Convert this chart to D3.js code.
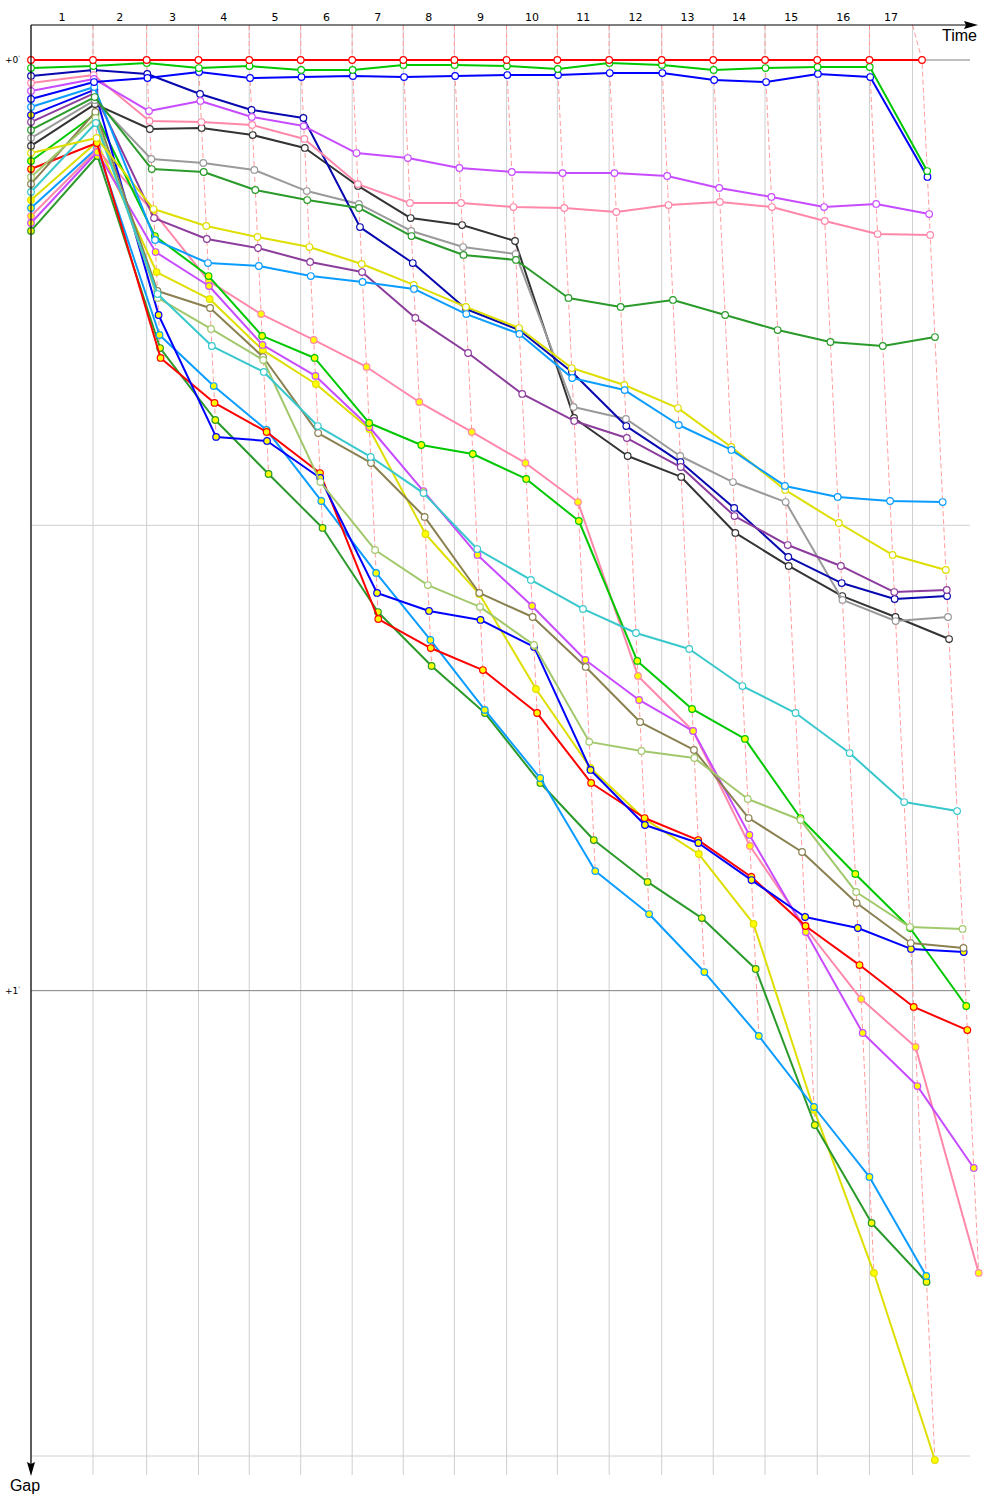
<!DOCTYPE html>
<html>
<head>
<meta charset="utf-8">
<script src="https://cdnjs.cloudflare.com/ajax/libs/d3/7.8.5/d3.min.js"></script>
<style>
  body { margin: 0; background: #fff; }
  svg { display: block; font-family: "DejaVu Sans", sans-serif; }
</style>
</head>
<body>
<svg id="chart" width="1000" height="1500"></svg>
<script>
// lap labels along the time axis
const lapLabels = ["1", "2", "3", "4", "5", "6", "7", "8", "9", "10", "11", "12", "13", "14", "15", "16", "17"];

// time marks of the vertical lines (seconds since start)
const gridTimes = [0, 85.5, 159.5, 231, 301, 372, 443, 513.5, 584, 656, 726, 797.5, 870, 941, 1012.5, 1084.5, 1156.5, 1216];
// leader crossing time of each lap (seconds)
const leaderTimes = [0, 85.5, 159.5, 231, 301, 372, 443, 513.5, 584, 656, 726, 797.5, 870, 941, 1012.5, 1084.5, 1156.5, 1229];

// gap ticks (seconds)
const gapTicks = [0, 30, 60, 90];
const gapTickLabels = ["+0", "", "+1", ""];

// gap to leader per lap (seconds), lap 0 = start grid
const gapRed = [0, 0, 0, 0, 0, 0, 0, 0, 0, 0, 0, 0, 0, 0, 0, 0, 0, 0];
const gapGreen = [0.52, 0.39, 0.19, 0.52, 0.39, 0.64, 0.64, 0.32, 0.32, 0.39, 0.58, 0.19, 0.32, 0.64, 0.52, 0.45, 0.45, 7.16];
const gapBlue = [2.51, 1.42, 1.16, 0.77, 1.16, 1.10, 1.03, 1.10, 1.03, 0.97, 0.97, 0.84, 0.84, 1.29, 1.42, 0.90, 1.10, 7.54];
const gapMagenta = [2.0, 1.22, 3.29, 2.64, 3.67, 4.26, 6.0, 6.32, 6.96, 7.22, 7.29, 7.29, 7.48, 8.25, 8.83, 9.48, 9.28, 9.93];
const gapPink = [1.48, 0.97, 3.93, 4.0, 4.19, 5.09, 8.0, 9.22, 9.22, 9.48, 9.54, 9.8, 9.35, 9.15, 9.48, 10.38, 11.22, 11.28];
const gapDarkGreen = [4.51, 2.39, 7.03, 7.22, 8.38, 9.03, 9.54, 11.35, 12.57, 12.89, 15.34, 15.92, 15.47, 16.44, 17.41, 18.18, 18.44, 17.86];
const gapSky = [3.03, 1.74, 11.6, 13.09, 13.28, 13.93, 14.31, 14.76, 16.38, 17.66, 20.5, 21.28, 23.53, 25.14, 27.46, 28.17, 28.43, 28.5];
const gapYellow = [6.0, 5.03, 9.61, 10.7, 11.41, 12.06, 13.15, 14.5, 15.92, 17.28, 19.86, 20.95, 22.44, 24.95, 27.72, 29.85, 31.91, 32.88];
const gapPurple = [4.0, 2.13, 10.19, 11.54, 12.12, 13.02, 13.67, 16.63, 18.89, 21.53, 23.27, 24.37, 26.24, 29.4, 31.27, 32.62, 34.3, 34.17];
const gapNavy = [1.03, 0.64, 0.9, 2.19, 3.22, 3.74, 10.77, 13.09, 16.05, 17.41, 20.11, 23.6, 25.92, 28.88, 32.04, 33.72, 34.75, 34.56];
const gapGray = [5.03, 2.58, 6.38, 6.64, 7.09, 8.45, 9.28, 11.02, 12.06, 12.51, 22.37, 23.14, 25.53, 27.21, 28.5, 34.81, 36.17, 35.91];
const gapBlack = [5.54, 2.84, 4.45, 4.38, 4.84, 5.67, 8.12, 10.19, 10.64, 11.67, 23.08, 25.53, 26.88, 30.49, 32.62, 34.56, 35.91, 37.33];
const gapTurquoise = [8.51, 4.06, 15.09, 18.44, 20.11, 23.6, 25.59, 27.92, 31.53, 33.52, 35.39, 36.94, 37.97, 40.36, 42.1, 44.68, 47.84, 48.42];
const gapOlive = [7.54, 3.74, 15.34, 17.34, 19.34, 27.21, 31.59, 33.85, 35.26, 37.71, 43.96, 44.55, 45.0, 47.64, 49.0, 53.64, 55.9, 56.02];
const gapKhaki = [7.99, 3.35, 14.89, 15.99, 19.15, 24.05, 25.98, 29.46, 34.36, 35.91, 39.13, 42.68, 44.48, 48.87, 51.06, 54.35, 56.93, 57.25];
const gapBlue2 = [3.55, 1.93, 16.44, 24.3, 24.56, 26.95, 34.36, 35.52, 36.1, 37.84, 45.77, 49.32, 50.48, 52.87, 55.25, 55.96, 57.31, 57.51];
const gapGreen2 = [6.51, 3.48, 11.35, 13.93, 17.79, 19.21, 23.4, 24.82, 25.4, 27.01, 29.72, 38.74, 41.84, 43.77, 48.87, 52.48, 55.96, 60.99];
const gapRed2 = [7.03, 5.35, 19.21, 22.11, 23.98, 26.63, 36.04, 37.91, 39.33, 42.1, 46.61, 48.87, 50.29, 52.67, 55.83, 58.35, 61.05, 62.54];
const gapMagenta2 = [10.51, 5.93, 12.38, 14.57, 18.37, 20.37, 23.66, 27.79, 31.91, 35.2, 38.68, 41.26, 43.26, 49.96, 56.22, 62.73, 66.15, 71.43];
const gapPink2 = [10.06, 5.8, 9.8, 14.25, 16.38, 18.05, 19.79, 22.05, 23.98, 25.98, 28.5, 39.71, 43.26, 50.67, 55.96, 60.54, 63.63, 78.2];
const gapSky2 = [9.54, 5.67, 17.73, 21.02, 23.85, 28.43, 33.07, 37.39, 41.9, 46.29, 52.29, 55.06, 58.8, 62.92, 67.5, 72.01, 78.39];
const gapDarkGreen2 = [11.02, 6.19, 18.57, 23.21, 26.69, 30.17, 35.59, 39.07, 42.1, 46.61, 50.29, 52.99, 55.32, 58.6, 68.66, 74.98, 78.78];
const gapYellow2 = [9.03, 5.29, 13.67, 15.41, 18.7, 20.89, 23.79, 30.56, 34.43, 40.55, 45.64, 48.93, 51.19, 55.7, 67.69, 78.2, 90.26];

// series in finishing order, with their styles
const drivers = [
  { gaps: gapRed, color: "#ff0000", marker: "#ffffff" },
  { gaps: gapGreen, color: "#00c800", marker: "#ffffff" },
  { gaps: gapBlue, color: "#0000ff", marker: "#ffffff" },
  { gaps: gapMagenta, color: "#c84cff", marker: "#ffffff" },
  { gaps: gapPink, color: "#ff88aa", marker: "#ffffff" },
  { gaps: gapDarkGreen, color: "#2a9a2a", marker: "#ffffff" },
  { gaps: gapSky, color: "#0a9cff", marker: "#ffffff" },
  { gaps: gapYellow, color: "#dede00", marker: "#ffffff" },
  { gaps: gapPurple, color: "#8c3c9c", marker: "#ffffff" },
  { gaps: gapNavy, color: "#0808b0", marker: "#ffffff" },
  { gaps: gapGray, color: "#9a9a9a", marker: "#ffffff" },
  { gaps: gapBlack, color: "#333333", marker: "#ffffff" },
  { gaps: gapTurquoise, color: "#38c8cc", marker: "#ffffff" },
  { gaps: gapOlive, color: "#a2c86c", marker: "#ffffff" },
  { gaps: gapKhaki, color: "#8a8050", marker: "#ffffff" },
  { gaps: gapBlue2, color: "#0000ff", marker: "#ffff00" },
  { gaps: gapGreen2, color: "#00c800", marker: "#ffff00" },
  { gaps: gapRed2, color: "#ff0000", marker: "#ffff00" },
  { gaps: gapMagenta2, color: "#c84cff", marker: "#ffff00" },
  { gaps: gapPink2, color: "#ff88aa", marker: "#ffff00" },
  { gaps: gapSky2, color: "#0a9cff", marker: "#ffff00" },
  { gaps: gapDarkGreen2, color: "#2a9a2a", marker: "#ffff00" },
  { gaps: gapYellow2, color: "#dede00", marker: "#ffff00" },
];

const svg = d3.select("#chart");

const axisTop = 25,
  axisLeft = 31,
  gridBottom = 1475,
  gridRight = 970;

const x = d3.scaleLinear().domain([0, 1229]).range([31, 922]);
const y = d3.scaleLinear().domain([0, 90]).range([60, 1456]);

// position of a driver's crossing of lap k
const px = (gap, k) => (k === 0 ? x(0) : x(leaderTimes[k] + gap));
const py = (gap) => y(gap);

//////////// GRID ////////////

svg
  .append("g")
  .selectAll("line")
  .data(gridTimes)
  .enter()
  .append("line")
  .attr("x1", (d) => x(d))
  .attr("x2", (d) => x(d))
  .attr("y1", axisTop)
  .attr("y2", gridBottom)
  .attr("stroke", "#cfcfcf")
  .attr("stroke-width", 1);

svg
  .append("g")
  .selectAll("line")
  .data(gapTicks)
  .enter()
  .append("line")
  .attr("x1", axisLeft)
  .attr("x2", gridRight)
  .attr("y1", (d) => y(d))
  .attr("y2", (d) => y(d))
  .attr("stroke", (d) => (d % 60 === 0 ? "#808080" : "#d0d0d0"))
  .attr("stroke-width", 1);

// tick labels on the gap axis
const tickText = svg
  .append("g")
  .selectAll("text")
  .data(gapTicks.filter((d, i) => gapTickLabels[i] !== ""))
  .enter()
  .append("text")
  .attr("x", 20)
  .attr("y", (d) => y(d) + 3)
  .attr("text-anchor", "end")
  .attr("font-size", 9)
  .text((d) => gapTickLabels[gapTicks.indexOf(d)]);
tickText.append("tspan").attr("font-size", 6).attr("dy", -3).text("'");

// lap labels between the vertical lines
svg
  .append("g")
  .selectAll("text")
  .data(lapLabels)
  .enter()
  .append("text")
  .attr("x", (d, i) => (x(gridTimes[i]) + x(gridTimes[i + 1])) / 2)
  .attr("y", 21)
  .attr("text-anchor", "middle")
  .attr("font-size", 11)
  .text((d) => d);

//////////// LAP LINES ////////////

// dashed line joining every driver's crossing of the same lap
const lapLine = d3.line().x((d) => d[0]).y((d) => d[1]);
for (let k = 1; k < leaderTimes.length; k++) {
  const pts = drivers
    .filter((d) => d.gaps[k] !== undefined)
    .map((d) => d.gaps[k])
    .sort((a, b) => a - b)
    .map((g) => [px(g, k), py(g)]);
  svg
    .append("path")
    .attr("d", lapLine([[x(gridTimes[k]), axisTop], ...pts]))
    .attr("fill", "none")
    .attr("stroke", "#ff9c9c")
    .attr("stroke-width", 1)
    .attr("stroke-dasharray", "5,3");
}

//////////// SERIES ////////////

const series = svg
  .append("g")
  .selectAll("g")
  .data(drivers.slice().reverse())
  .enter()
  .append("g");

series
  .append("path")
  .attr("d", (d) =>
    d3
      .line()
      .x((g, k) => px(g, k))
      .y((g) => py(g))(d.gaps),
  )
  .attr("fill", "none")
  .attr("stroke", (d) => d.color)
  .attr("stroke-width", 2)
  .attr("stroke-linejoin", "round");

series
  .selectAll("circle")
  .data((d) => d.gaps.map((g, k) => ({ g, k, d })))
  .enter()
  .append("circle")
  .attr("cx", (p) => px(p.g, p.k))
  .attr("cy", (p) => py(p.g))
  .attr("r", 3.3)
  .attr("fill", (p) => p.d.marker)
  .attr("stroke", (p) => p.d.color)
  .attr("stroke-width", 1.2);

//////////// AXES ////////////

svg
  .append("line")
  .attr("x1", axisLeft)
  .attr("x2", 968)
  .attr("y1", axisTop)
  .attr("y2", axisTop)
  .attr("stroke", "#000")
  .attr("stroke-width", 1.2);
svg
  .append("path")
  .attr("d", `M978,${axisTop} L964,${axisTop - 4} L966,${axisTop} L964,${axisTop + 4} Z`)
  .attr("fill", "#000");

svg
  .append("line")
  .attr("x1", axisLeft)
  .attr("x2", axisLeft)
  .attr("y1", axisTop)
  .attr("y2", 1466)
  .attr("stroke", "#000")
  .attr("stroke-width", 1.2);
svg
  .append("path")
  .attr("d", `M${axisLeft},1476 L${axisLeft - 4},1462 L${axisLeft},1464 L${axisLeft + 4},1462 Z`)
  .attr("fill", "#000");

svg
  .append("text")
  .attr("x", 977)
  .attr("y", 41)
  .attr("text-anchor", "end")
  .attr("font-family", "Liberation Sans, sans-serif")
  .attr("font-size", 16)
  .text("Time");

svg
  .append("text")
  .attr("x", 25)
  .attr("y", 1491)
  .attr("text-anchor", "middle")
  .attr("font-family", "Liberation Sans, sans-serif")
  .attr("font-size", 16)
  .text("Gap");
</script>
</body>
</html>
